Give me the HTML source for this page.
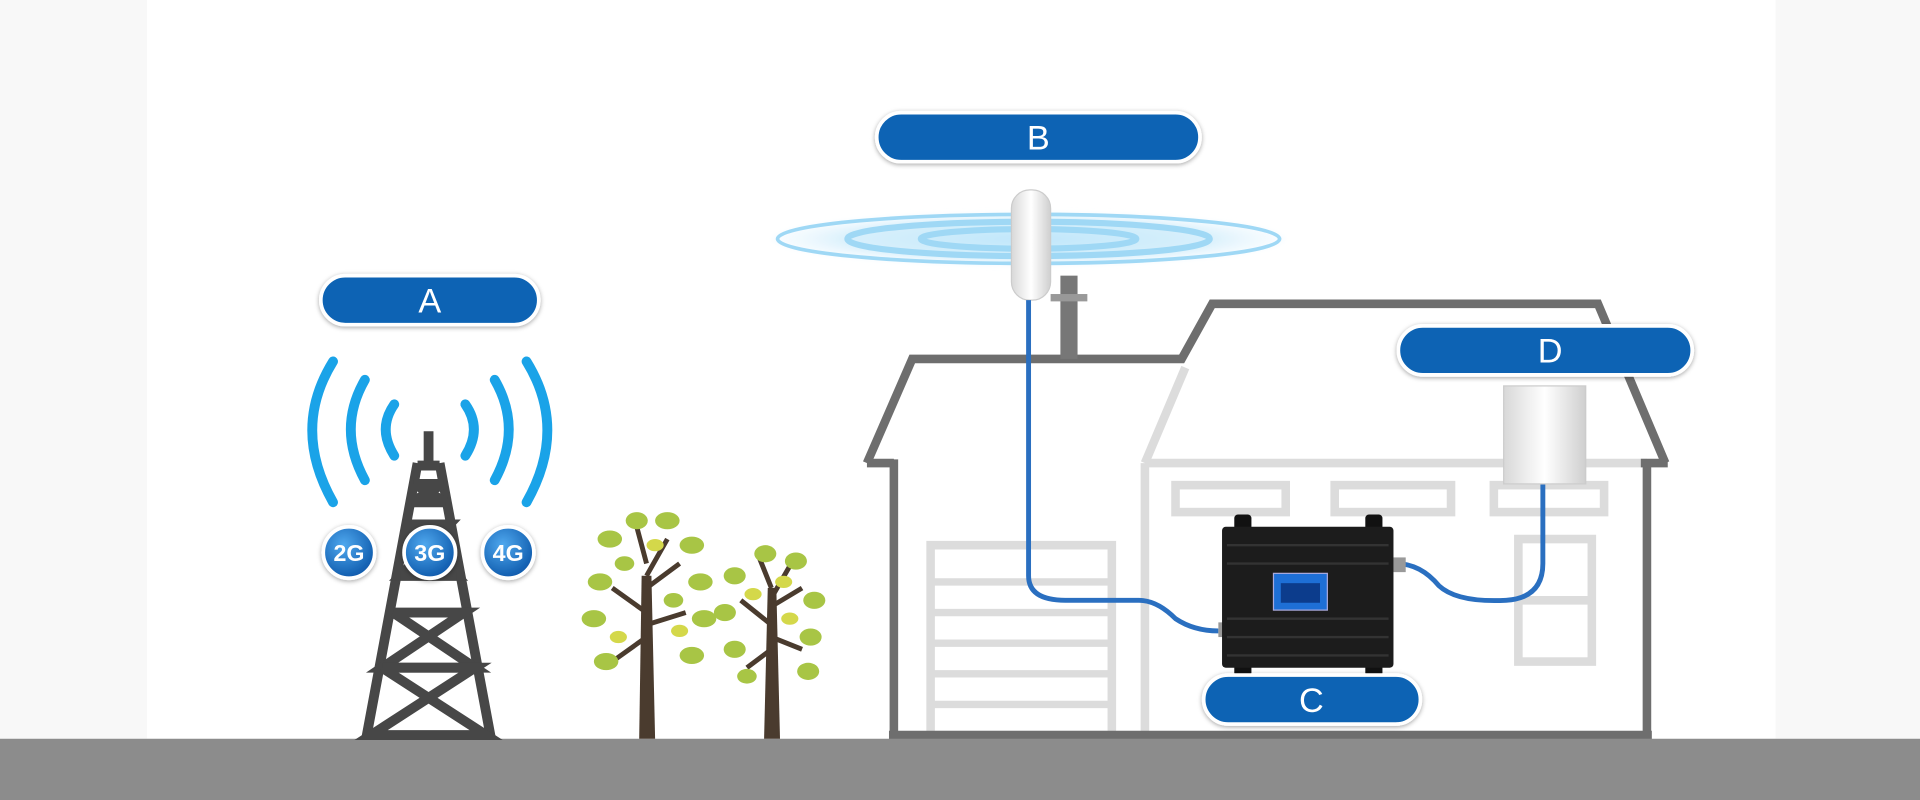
<!DOCTYPE html>
<html><head><meta charset="utf-8"><style>
html,body{margin:0;padding:0;background:#fff;}
svg{display:block;}
text{font-family:"Liberation Sans",sans-serif;}
</style></head><body>
<svg width="1920" height="800" viewBox="0 0 1568 653" preserveAspectRatio="none" xmlns="http://www.w3.org/2000/svg">
<defs>
<filter id="sh" x="-10%" y="-30%" width="120%" height="160%"><feDropShadow dx="0" dy="1" stdDeviation="2" flood-color="#000" flood-opacity="0.35"/></filter>
<filter id="bl"><feGaussianBlur stdDeviation="2"/></filter>
<linearGradient id="ant" x1="0" x2="1"><stop offset="0" stop-color="#d8d8d8"/><stop offset="0.5" stop-color="#fff"/><stop offset="1" stop-color="#cfcfcf"/></linearGradient>
<radialGradient id="bub" cx="0.4" cy="0.35" r="0.7"><stop offset="0" stop-color="#4fa8ee"/><stop offset="1" stop-color="#0a55a8"/></radialGradient>
<radialGradient id="glow" cx="0.5" cy="0.5" r="0.5"><stop offset="0" stop-color="#bfe6fa"/><stop offset="0.7" stop-color="#d8f0fc"/><stop offset="1" stop-color="#eef8fe" stop-opacity="0.3"/></radialGradient>
</defs>
<rect width="1568" height="653" fill="#fff"/>
<rect x="0" y="0" width="120" height="603" fill="#f8f8f8"/>
<rect x="1450" y="0" width="118" height="603" fill="#f8f8f8"/>

<!-- house inner (light) -->
<g fill="none" stroke="#dcdcdc" stroke-width="7">
<path d="M935 378 L968 300"/>
<line x1="935" y1="378" x2="935" y2="600"/>
<rect x="760" y="445" width="148" height="155"/>
<g stroke-width="6"><line x1="760" y1="475" x2="908" y2="475"/><line x1="760" y1="500" x2="908" y2="500"/><line x1="760" y1="525" x2="908" y2="525"/><line x1="760" y1="550" x2="908" y2="550"/><line x1="760" y1="575" x2="908" y2="575"/></g>
<rect x="960" y="396" width="90" height="22"/>
<rect x="1090" y="396" width="95" height="22"/>
<rect x="1220" y="396" width="90" height="22"/>
<rect x="1240" y="440" width="60" height="100"/>
<line x1="1240" y1="490" x2="1300" y2="490"/>
<line x1="935" y1="378" x2="1345" y2="378"/>
</g>
<g fill="none" stroke="#6e6e6e" stroke-width="7" stroke-linejoin="miter">
<path d="M708 378 L745 293 L965 293 L990 248 L1305 248 L1360 378"/>
<line x1="708" y1="378" x2="730" y2="378"/>
<line x1="730" y1="375" x2="730" y2="600"/>
<line x1="1345" y1="375" x2="1345" y2="600"/>
<line x1="1340" y1="378" x2="1362" y2="378"/>
<line x1="726" y1="600" x2="1349" y2="600"/>
</g>

<rect x="0" y="603" width="1568" height="50" fill="#8c8c8c"/>

<!-- antenna rings -->
<ellipse cx="840" cy="195" rx="210" ry="22" fill="url(#glow)" filter="url(#bl)"/>
<g fill="none" stroke="#9fd8f5">
<ellipse cx="840" cy="195" rx="205" ry="20" stroke-width="3"/>
<ellipse cx="840" cy="195" rx="148" ry="14" stroke-width="5"/>
<ellipse cx="840" cy="195" rx="88" ry="8" stroke-width="5"/>
</g>
<rect x="866" y="225" width="14" height="68" fill="#777"/>
<rect x="858" y="240" width="30" height="6" fill="#999"/>
<rect x="826" y="155" width="32" height="90" rx="15" fill="url(#ant)" stroke="#ccc"/>

<g fill="none" stroke="#2a6fc0" stroke-width="4">
<path d="M840 245 L840 470 Q840 490 870 490 L930 490 Q945 490 960 505 Q975 515 995 515"/>
<path d="M1140 460 Q1160 460 1175 478 Q1190 492 1230 490 Q1260 488 1260 460 L1260 392"/>
</g>

<rect x="1228" y="315" width="67" height="80" fill="url(#ant)" stroke="#ccc"/>

<rect x="995" y="508" width="10" height="12" fill="#999"/>
<rect x="1138" y="455" width="10" height="12" fill="#999"/>
<rect x="1008" y="420" width="14" height="14" rx="3" fill="#111"/>
<rect x="1115" y="420" width="14" height="14" rx="3" fill="#111"/>
<rect x="1008" y="540" width="14" height="12" rx="3" fill="#111"/>
<rect x="1115" y="540" width="14" height="12" rx="3" fill="#111"/>
<rect x="998" y="430" width="140" height="115" rx="3" fill="#1c1c1c"/>
<g stroke="#333" stroke-width="2">
<line x1="1002" y1="445" x2="1134" y2="445"/><line x1="1002" y1="460" x2="1134" y2="460"/>
<line x1="1002" y1="505" x2="1134" y2="505"/><line x1="1002" y1="520" x2="1134" y2="520"/><line x1="1002" y1="535" x2="1134" y2="535"/>
</g>
<rect x="1040" y="468" width="44" height="30" fill="#1e6fd6" stroke="#aad" />
<rect x="1046" y="476" width="32" height="16" fill="#0c3c8c"/>

<g fill="none" stroke="#1aa3e8" stroke-width="8" stroke-linecap="round">
<path d="M322 330 Q308 350 322 372"/>
<path d="M298 310 Q275 350 298 392"/>
<path d="M272 295 Q238 350 272 410"/>
<path d="M380 330 Q394 350 380 372"/>
<path d="M404 310 Q427 350 404 392"/>
<path d="M430 295 Q464 350 430 410"/>
</g>
<!-- tower -->
<g fill="none" stroke="#474747" stroke-width="8" stroke-linejoin="miter">
<line x1="350" y1="352" x2="350" y2="378"/>
<path d="M341 378 L299 603 M359 378 L401 603"/>
<path d="M341 380 L359 380 M338 395 L362 395 M336 410 L364 410 M338 395 L364 410 M362 395 L336 410"/>
<path d="M333 428 L367 428 L327 470 L373 470 L333 428 M367 428 L327 470"/>
<path d="M327 470 L373 470 M321 500 L379 500 L312 545 L388 545 L321 500 M379 500 L312 545"/>
<path d="M312 545 L388 545 L303 600 L397 600 L312 545 M388 545 L303 600"/>
</g>
<g filter="url(#sh)">
<circle cx="285" cy="451" r="21" fill="url(#bub)" stroke="#fff" stroke-width="3"/>
<circle cx="351" cy="451" r="21" fill="url(#bub)" stroke="#fff" stroke-width="3"/>
<circle cx="415" cy="451" r="21" fill="url(#bub)" stroke="#fff" stroke-width="3"/>
</g>
<g fill="#fff" font-size="19" font-weight="bold" text-anchor="middle">
<text x="285" y="458">2G</text><text x="351" y="458">3G</text><text x="415" y="458">4G</text>
</g>

<g fill="#4a3b2e">
<path d="M522 603 L524 470 L532 470 L535 603 Z"/>
<path d="M624 603 L627 480 L634 480 L637 603 Z"/>
</g>
<g stroke="#4a3b2e" stroke-width="4" fill="none">
<path d="M528 500 L500 480 M528 480 L555 460 M528 520 L500 540 M528 510 L560 500 M528 460 L520 430 M528 470 L545 440"/>
<path d="M630 510 L605 490 M630 495 L655 480 M630 530 L610 545 M630 520 L655 530 M630 480 L620 455 M630 488 L645 462"/>
</g>
<g fill="#a8c545">
<ellipse cx="498" cy="440" rx="10" ry="7"/><ellipse cx="520" cy="425" rx="9" ry="7"/><ellipse cx="545" cy="425" rx="10" ry="7"/>
<ellipse cx="565" cy="445" rx="10" ry="7"/><ellipse cx="490" cy="475" rx="10" ry="7"/><ellipse cx="572" cy="475" rx="10" ry="7"/>
<ellipse cx="485" cy="505" rx="10" ry="7"/><ellipse cx="575" cy="505" rx="10" ry="7"/><ellipse cx="495" cy="540" rx="10" ry="7"/>
<ellipse cx="565" cy="535" rx="10" ry="7"/><ellipse cx="510" cy="460" rx="8" ry="6"/><ellipse cx="550" cy="490" rx="8" ry="6"/>
<ellipse cx="600" cy="470" rx="9" ry="7"/><ellipse cx="625" cy="452" rx="9" ry="7"/><ellipse cx="650" cy="458" rx="9" ry="7"/>
<ellipse cx="665" cy="490" rx="9" ry="7"/><ellipse cx="592" cy="500" rx="9" ry="7"/><ellipse cx="600" cy="530" rx="9" ry="7"/>
<ellipse cx="662" cy="520" rx="9" ry="7"/><ellipse cx="660" cy="548" rx="9" ry="7"/><ellipse cx="610" cy="552" rx="8" ry="6"/>
</g>
<g fill="#d4d84a">
<ellipse cx="535" cy="445" rx="7" ry="5"/><ellipse cx="505" cy="520" rx="7" ry="5"/><ellipse cx="555" cy="515" rx="7" ry="5"/>
<ellipse cx="615" cy="485" rx="7" ry="5"/><ellipse cx="645" cy="505" rx="7" ry="5"/><ellipse cx="640" cy="475" rx="7" ry="5"/>
</g>

<g filter="url(#sh)" fill="#0a64b4" stroke="#fff" stroke-width="3">
<rect x="262" y="225" width="178" height="40" rx="20"/>
<rect x="716" y="92" width="264" height="40" rx="20"/>
<rect x="983" y="551" width="177" height="40" rx="20"/>
<rect x="1142" y="266" width="240" height="40" rx="20"/>
</g>
<g fill="#fff" font-size="28" text-anchor="middle">
<text x="351" y="255">A</text>
<text x="848" y="122">B</text>
<text x="1071" y="581">C</text>
<text x="1266" y="296">D</text>
</g>
</svg>
</body></html>
